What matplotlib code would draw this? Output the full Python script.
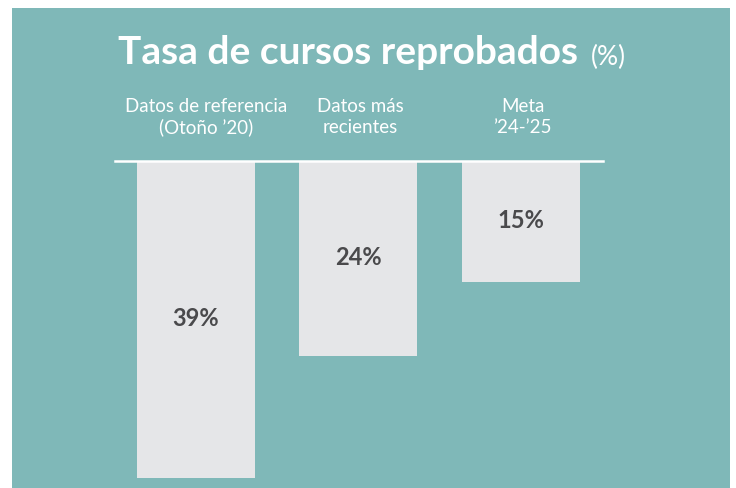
import matplotlib
matplotlib.use("Agg")
import matplotlib.pyplot as plt
from matplotlib.patches import Rectangle

categories = ["Datos de referencia\n(Otoño \u201920)", "Datos más\nrecientes", "Meta\n\u201924-\u201925"]
values = [39, 24, 15]
value_labels = ["39%", "24%", "15%"]

teal = "#7fb8b8"
bar_col = "#e5e6e8"
txt_dark = "#4a4a4c"

W, H = 736, 489
fig = plt.figure(figsize=(W / 100, H / 100), dpi=100)
fig.patch.set_facecolor("white")
plt.rcParams["font.family"] = ["Lato", "DejaVu Sans"]

# teal panel
fig.patches.append(Rectangle((12 / W, 0), (730 - 12) / W, (H - 9) / H,
                             transform=fig.transFigure, facecolor=teal,
                             edgecolor="none", zorder=-10))

ax = fig.add_axes([115 / W, -0.5 / H, (603 - 115) / W, (487 - 159) / H])
ax.set_facecolor("none")
ax.set_zorder(1)
x = range(len(values))
ax.bar(x, values, width=0.726, color=bar_col, align="center", zorder=2)
ax.set_xlim(-0.498, 2.505)
ax.set_ylim(40.35, 0)
ax.axhline(0, color="white", lw=1.8, zorder=3, clip_on=False)
for s in ax.spines.values():
    s.set_visible(False)
ax.set_xticks([])
ax.set_yticks([])

for i, v in enumerate(values):
    ax.text(i, v / 2 - 0.2, value_labels[i], ha="center", va="center",
            fontsize=17, fontweight="bold", color=txt_dark, zorder=4)

# category labels above the line (first one sits a bit right of its bar)
for i, c in enumerate(categories):
    xf = ax.transData.transform((i + (0.065 if i == 0 else 0.01), 0))[0] / W
    fig.text(xf, 1 - 117 / H, c, ha="center", va="center", fontsize=13.5,
             color="white", linespacing=1.25)

t1 = fig.text(118 / W, 1 - 53 / H, "Tasa de cursos reprobados", ha="left",
              va="center", fontsize=28, fontweight="bold", color="white")
fig.canvas.draw()
bb = t1.get_window_extent()
fig.text((bb.x1 + 13) / W, 1 - 57 / H, "(%)", ha="left", va="center",
         fontsize=19, color="white")

fig.savefig("out.png", dpi=100, facecolor=fig.get_facecolor())
